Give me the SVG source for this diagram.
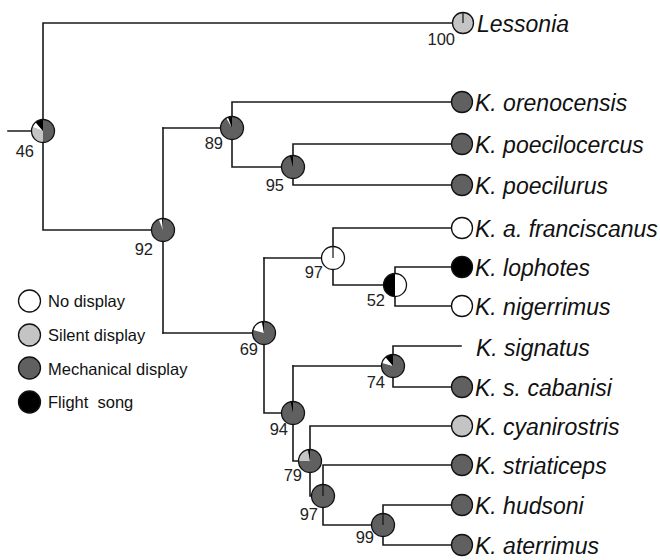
<svg xmlns="http://www.w3.org/2000/svg" width="660" height="560" viewBox="0 0 660 560">
  <style>
    .br { fill: none; stroke: #1a1a1a; stroke-width: 1.6; stroke-linecap: square; }
    .ring { fill: none; stroke: #111; stroke-width: 1.3; }
    .tick { stroke: #111; stroke-width: 1.2; }
    .none { fill: #ffffff; }
    .silent { fill: #c4c4c4; }
    .mech { fill: #606060; }
    .flight { fill: #000000; }
    .sp { font-family: "Liberation Sans", Arial, sans-serif; font-style: italic; font-size: 23px; fill: #111; }
    .bs { font-family: "Liberation Sans", Arial, sans-serif; font-size: 16.5px; fill: #222; text-anchor: end; }
    .lg { font-family: "Liberation Sans", Arial, sans-serif; font-size: 16.5px; fill: #111; }
  </style>
  <rect width="660" height="560" fill="#ffffff"/>

  <!-- tree branches (rectangular cladogram) -->
  <g id="connectors" class="br">
    <path d="M8,131 H43"/>
    <path d="M452,23 H43 V230 H163"/>
    <path d="M163,128 V333"/>
    <path d="M451,102 H232 V167 H293"/>
    <path d="M451,144 H293 V185 H451"/>
    <path d="M163,128 H232"/>
    <path d="M163,333 H264"/>
    <path d="M451,228 H333 V285 H395"/>
    <path d="M451,267 H395 V306 H451"/>
    <path d="M264,258 H333"/>
    <path d="M264,258 V413 H293"/>
    <path d="M461,346 H393 V387 H451"/>
    <path d="M293,366 H393"/>
    <path d="M293,366 V461 H310"/>
    <path d="M451,426 H310 V496 H323"/>
    <path d="M451,465 H323 V525 H383"/>
    <path d="M451,505 H383 V545 H451"/>
  </g>

  <!-- ancestral state pies at internal nodes -->
  <g id="node-46">
    <circle cx="43" cy="131" r="11.5" class="mech"/>
    <path class="silent" d="M43,131 L43,142.5 A11.5,11.5 0 0 1 32.19,127.07 Z"/>
    <path class="none" d="M43,131 L32.19,127.07 A11.5,11.5 0 0 1 35.61,122.19 Z"/>
    <path class="flight" d="M43,131 L35.61,122.19 A11.5,11.5 0 0 1 43,119.5 Z"/>
    <circle cx="43" cy="131" r="11.5" class="ring"/>
    <text class="bs" x="34" y="157">46</text>
  </g>
  <g id="node-89">
    <circle cx="232" cy="128" r="11.5" class="mech"/>
    <path class="none" d="M232,128 L226.25,118.04 A11.5,11.5 0 0 1 228.07,117.19 Z"/>
    <path class="flight" d="M232,128 L228.07,117.19 A11.5,11.5 0 0 1 232,116.5 Z"/>
    <circle cx="232" cy="128" r="11.5" class="ring"/>
    <text class="bs" x="223" y="149">89</text>
  </g>
  <g id="node-95">
    <circle cx="293" cy="167" r="11.5" class="mech"/>
    <path class="flight" d="M293,167 L290.02,155.89 A11.5,11.5 0 0 1 293,155.5 Z"/>
    <circle cx="293" cy="167" r="11.5" class="ring"/>
    <text class="bs" x="284" y="191">95</text>
  </g>
  <g id="node-92">
    <circle cx="163" cy="230" r="11.5" class="mech"/>
    <path class="none" d="M163,230 L158.69,219.34 A11.5,11.5 0 0 1 162,218.54 Z"/>
    <path class="flight" d="M163,230 L162,218.54 A11.5,11.5 0 0 1 163,218.5 Z"/>
    <circle cx="163" cy="230" r="11.5" class="ring"/>
    <text class="bs" x="153" y="255">92</text>
  </g>
  <g id="node-97a">
    <circle cx="333" cy="258" r="11.5" class="none"/>
    <line class="tick" x1="333" y1="258" x2="333" y2="246.5"/>
    <circle cx="333" cy="258" r="11.5" class="ring"/>
    <text class="bs" x="323" y="278">97</text>
  </g>
  <g id="node-52">
    <circle cx="395" cy="285" r="11.5" class="none"/>
    <path class="flight" d="M395,285 L395,296.5 A11.5,11.5 0 0 1 395,273.5 Z"/>
    <circle cx="395" cy="285" r="11.5" class="ring"/>
    <text class="bs" x="385" y="306">52</text>
  </g>
  <g id="node-69">
    <circle cx="264" cy="333" r="11.5" class="mech"/>
    <path class="none" d="M264,333 L252.89,330.02 A11.5,11.5 0 0 1 262,321.67 Z"/>
    <path class="flight" d="M264,333 L262,321.67 A11.5,11.5 0 0 1 264,321.5 Z"/>
    <circle cx="264" cy="333" r="11.5" class="ring"/>
    <text class="bs" x="258" y="355">69</text>
  </g>
  <g id="node-74">
    <circle cx="393" cy="366" r="11.5" class="mech"/>
    <path class="none" d="M393,366 L381.89,363.02 A11.5,11.5 0 0 1 385.61,357.19 Z"/>
    <path class="flight" d="M393,366 L385.61,357.19 A11.5,11.5 0 0 1 393,354.5 Z"/>
    <circle cx="393" cy="366" r="11.5" class="ring"/>
    <text class="bs" x="385" y="388">74</text>
  </g>
  <g id="node-94">
    <circle cx="293" cy="413" r="11.5" class="mech"/>
    <path class="flight" d="M293,413 L290.61,401.75 A11.5,11.5 0 0 1 293,401.5 Z"/>
    <circle cx="293" cy="413" r="11.5" class="ring"/>
    <text class="bs" x="288" y="435">94</text>
  </g>
  <g id="node-79">
    <circle cx="310" cy="461" r="11.5" class="mech"/>
    <path class="silent" d="M310,461 L298.5,461 A11.5,11.5 0 0 1 308,449.67 Z"/>
    <path class="flight" d="M310,461 L308,449.67 A11.5,11.5 0 0 1 310,449.5 Z"/>
    <circle cx="310" cy="461" r="11.5" class="ring"/>
    <text class="bs" x="302" y="481">79</text>
  </g>
  <g id="node-97b">
    <circle cx="323" cy="496" r="11.5" class="mech"/>
    <line class="tick" x1="323" y1="496" x2="323" y2="484.5"/>
    <circle cx="323" cy="496" r="11.5" class="ring"/>
    <text class="bs" x="318" y="520">97</text>
  </g>
  <g id="node-99">
    <circle cx="383" cy="525" r="11.5" class="mech"/>
    <line class="tick" x1="383" y1="525" x2="383" y2="513.5"/>
    <circle cx="383" cy="525" r="11.5" class="ring"/>
    <text class="bs" x="374" y="543">99</text>
  </g>

  <!-- terminal taxa -->
  <g id="leaf-lessonia">
    <circle cx="463" cy="23" r="10.5" class="silent"/>
    <line class="tick" x1="463" y1="23" x2="463" y2="12.5"/>
    <circle cx="463" cy="23" r="10.5" class="ring"/>
    <text class="bs" x="455" y="45">100</text>
    <text class="sp" x="477" y="32">Lessonia</text>
  </g>
  <g id="leaf-orenocensis">
    <circle cx="462" cy="102" r="10.5" class="mech"/>
    <circle cx="462" cy="102" r="10.5" class="ring"/>
    <text class="sp" x="475" y="111">K. orenocensis</text>
  </g>
  <g id="leaf-poecilocercus">
    <circle cx="462" cy="144" r="10.5" class="mech"/>
    <circle cx="462" cy="144" r="10.5" class="ring"/>
    <text class="sp" x="475" y="153">K. poecilocercus</text>
  </g>
  <g id="leaf-poecilurus">
    <circle cx="462" cy="185" r="10.5" class="mech"/>
    <circle cx="462" cy="185" r="10.5" class="ring"/>
    <text class="sp" x="475" y="194">K. poecilurus</text>
  </g>
  <g id="leaf-franciscanus">
    <circle cx="462" cy="228" r="10.5" class="none"/>
    <circle cx="462" cy="228" r="10.5" class="ring"/>
    <text class="sp" x="475" y="237">K. a. franciscanus</text>
  </g>
  <g id="leaf-lophotes">
    <circle cx="462" cy="267" r="10.5" class="flight"/>
    <circle cx="462" cy="267" r="10.5" class="ring"/>
    <text class="sp" x="475" y="276">K. lophotes</text>
  </g>
  <g id="leaf-nigerrimus">
    <circle cx="462" cy="306" r="10.5" class="none"/>
    <circle cx="462" cy="306" r="10.5" class="ring"/>
    <text class="sp" x="475" y="315">K. nigerrimus</text>
  </g>
  <g id="leaf-signatus">
    <text class="sp" x="476" y="356">K. signatus</text>
  </g>
  <g id="leaf-cabanisi">
    <circle cx="462" cy="387" r="10.5" class="mech"/>
    <circle cx="462" cy="387" r="10.5" class="ring"/>
    <text class="sp" x="475" y="396">K. s. cabanisi</text>
  </g>
  <g id="leaf-cyanirostris">
    <circle cx="462" cy="426" r="10.5" class="silent"/>
    <circle cx="462" cy="426" r="10.5" class="ring"/>
    <text class="sp" x="475" y="435">K. cyanirostris</text>
  </g>
  <g id="leaf-striaticeps">
    <circle cx="462" cy="465" r="10.5" class="mech"/>
    <circle cx="462" cy="465" r="10.5" class="ring"/>
    <text class="sp" x="475" y="474">K. striaticeps</text>
  </g>
  <g id="leaf-hudsoni">
    <circle cx="462" cy="505" r="10.5" class="mech"/>
    <circle cx="462" cy="505" r="10.5" class="ring"/>
    <text class="sp" x="475" y="514">K. hudsoni</text>
  </g>
  <g id="leaf-aterrimus">
    <circle cx="462" cy="545" r="10.5" class="mech"/>
    <circle cx="462" cy="545" r="10.5" class="ring"/>
    <text class="sp" x="475" y="554">K. aterrimus</text>
  </g>

  <!-- character state key -->
  <g id="legend">
    <circle cx="29.5" cy="301" r="11" class="none"/>
    <circle cx="29.5" cy="301" r="11" class="ring"/>
    <text class="lg" x="48" y="307">No display</text>
    <circle cx="29.5" cy="335" r="11" class="silent"/>
    <circle cx="29.5" cy="335" r="11" class="ring"/>
    <text class="lg" x="48" y="341">Silent display</text>
    <circle cx="29.5" cy="368" r="11" class="mech"/>
    <circle cx="29.5" cy="368" r="11" class="ring"/>
    <text class="lg" x="48" y="375">Mechanical display</text>
    <circle cx="29.5" cy="402" r="11" class="flight"/>
    <circle cx="29.5" cy="402" r="11" class="ring"/>
    <text class="lg" x="48" y="408">Flight&#160; song</text>
  </g>
</svg>
